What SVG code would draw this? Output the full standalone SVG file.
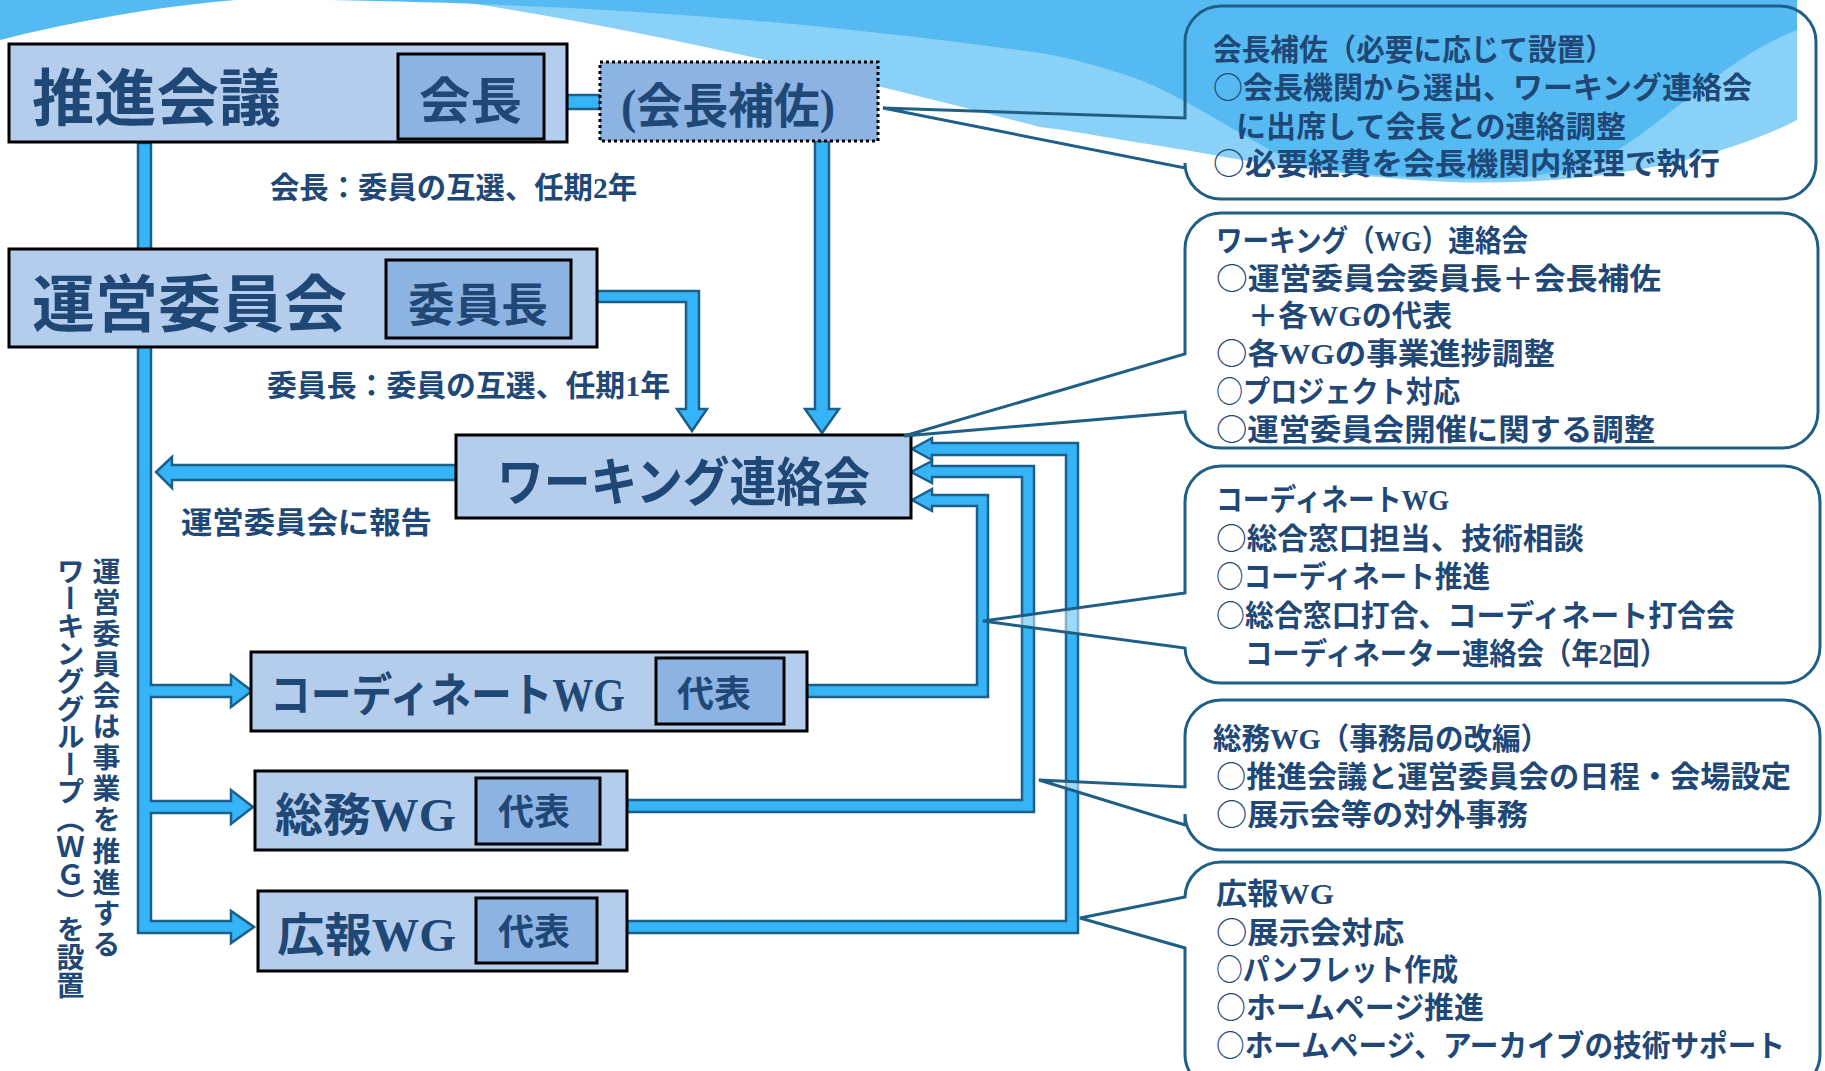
<svg xmlns="http://www.w3.org/2000/svg" width="1825" height="1071" viewBox="0 0 1825 1071">
<style>
.t{font-family:'Liberation Serif','Noto Sans CJK JP',serif;font-weight:700;fill:#1f4877}
.o{font-family:'Noto Sans CJK JP',sans-serif;font-weight:400}
.box{fill:#b4cdec;stroke:#000;stroke-width:3}
.inner{fill:#8db3e2;stroke:#000;stroke-width:3}
.dot{fill:#8db3e2;stroke:#000;stroke-width:3;stroke-dasharray:3 3}
.conn{fill:#35b5f7;stroke:#1b5f8a;stroke-width:2.5;stroke-linejoin:miter}
.call{fill:#fff;fill-opacity:0.5;stroke:#1f5f86;stroke-width:3}
.c1{fill:none;stroke:#1f5f86;stroke-width:3}
.ct{font-size:30px}
</style>
<rect width="1825" height="1071" fill="#fff"/>
<g id="background">
<path d="M0,0 L236,0 C160,6 70,22 0,40 Z" fill="#56baf2"/>
<path d="M450,0 L1797,0 L1797,120 C1700,170 1560,186 1450,182 C1330,176 1240,160 1185,150 C1120,140 1080,132 1040,127 C860,80 650,30 450,0 Z" fill="#8ad1f7"/>
<path d="M330,0 L1797,0 L1797,30 C1720,60 1660,130 1600,160 C1540,182 1480,180 1440,178 C1360,176 1320,170 1290,160 C1230,130 1190,100 1140,80 C1100,66 1070,58 1040,53 C800,20 600,5 330,0 Z" fill="#56baf2"/>
</g>
<g id="connectors">
<rect class="conn" x="567" y="95" width="33" height="14"/>
<polygon class="conn" points="138,143 151,143 151,685 231,685 231,675 252,691 231,707 231,697 151,697 151,801 231,801 231,790 253,807 231,824 231,813 151,813 151,921 231,921 231,911 254,927 231,943 231,933 138,933"/>
<polygon class="conn" points="815,141 829,141 829,409 839,409 822,433 805,409 815,409"/>
<polygon class="conn" points="597,291 699,291 699,409 707,409 692,431 677,409 686,409 686,302 597,302"/>
<polygon class="conn" points="456,465 172,465 172,457 156,472 172,488 172,480 456,480"/>
<polygon class="conn" points="807,685 977,685 977,506 932,506 932,511 912,500 932,489 932,495 988,495 988,697 807,697"/>
<polygon class="conn" points="627,800 1022,800 1022,477 932,477 932,483 911,472 932,461 932,466 1034,466 1034,812 627,812"/>
<polygon class="conn" points="627,921 1066,921 1066,455 932,455 932,460 912,449 932,438 932,443 1078,443 1078,933 627,933"/>
</g>
<g id="suishin">
<rect class="box" x="9" y="44" width="558" height="98"/>
<text class="t" x="32" y="121" font-size="62" textLength="249" lengthAdjust="spacingAndGlyphs">推進会議</text>
<rect class="inner" x="398" y="54" width="146" height="85"/>
<text class="t" x="419" y="119" font-size="50" textLength="103" lengthAdjust="spacingAndGlyphs">会長</text>
</g>
<g id="hosa">
<rect class="dot" x="600" y="62" width="278" height="79"/>
<text class="t" x="621" y="123" font-size="48" textLength="214" lengthAdjust="spacingAndGlyphs">(会長補佐)</text>
</g>
<g id="unei">
<rect class="box" x="9" y="249" width="588" height="98"/>
<text class="t" x="32" y="327" font-size="62" textLength="315" lengthAdjust="spacingAndGlyphs">運営委員会</text>
<rect class="inner" x="386" y="260" width="185" height="78"/>
<text class="t" x="408" y="321" font-size="46" textLength="140" lengthAdjust="spacingAndGlyphs">委員長</text>
</g>
<g id="working">
<rect class="box" x="456" y="435" width="455" height="83"/>
<text class="t" x="497" y="501" font-size="52" textLength="373" lengthAdjust="spacingAndGlyphs">ワーキング連絡会</text>
</g>
<g id="coordinate">
<rect class="box" x="251" y="652" width="556" height="79"/>
<text class="t" x="270" y="711" font-size="46" textLength="355" lengthAdjust="spacingAndGlyphs">コーディネートWG</text>
<rect class="inner" x="656" y="658" width="128" height="66"/>
<text class="t" x="677" y="707" font-size="36" textLength="74" lengthAdjust="spacingAndGlyphs">代表</text>
</g>
<g id="soumu">
<rect class="box" x="255" y="771" width="372" height="79"/>
<text class="t" x="275" y="831" font-size="46" textLength="181" lengthAdjust="spacingAndGlyphs">総務WG</text>
<rect class="inner" x="476" y="778" width="124" height="66"/>
<text class="t" x="498" y="825" font-size="36" textLength="72" lengthAdjust="spacingAndGlyphs">代表</text>
</g>
<g id="kouhou">
<rect class="box" x="258" y="891" width="369" height="80"/>
<text class="t" x="277" y="951" font-size="46" textLength="179" lengthAdjust="spacingAndGlyphs">広報WG</text>
<rect class="inner" x="476" y="898" width="121" height="65"/>
<text class="t" x="498" y="945" font-size="36" textLength="72" lengthAdjust="spacingAndGlyphs">代表</text>
</g>
<g id="labels">
<text class="t ct" x="270" y="198" textLength="367" lengthAdjust="spacingAndGlyphs">会長：委員の互選、任期2年</text>
<text class="t ct" x="267" y="396" textLength="403" lengthAdjust="spacingAndGlyphs">委員長：委員の互選、任期1年</text>
<text class="t ct" x="181" y="533" textLength="251" lengthAdjust="spacingAndGlyphs">運営委員会に報告</text>
<text class="t" x="104" y="557" font-size="28" style="writing-mode:vertical-rl;letter-spacing:3.1px">運営委員会は事業を推進する</text>
<text class="t" x="68" y="557" font-size="28" style="writing-mode:vertical-rl;letter-spacing:-0.4px">ワーキンググループ（ＷＧ）を設置</text>
</g>
<g id="callout1">
<path class="c1" d="M1221,6 H1780 A36,36 0 0 1 1816,42 V163 A36,36 0 0 1 1780,199 H1221 A36,36 0 0 1 1185,163 V168 L883,108 L1185,118 V42 A36,36 0 0 1 1221,6 Z"/>
<text class="t ct" x="1213" y="60" textLength="401" lengthAdjust="spacingAndGlyphs">会長補佐（必要に応じて設置）</text>
<text class="t ct" x="1213" y="98" textLength="539" lengthAdjust="spacingAndGlyphs"><tspan class="o">○</tspan>会長機関から選出、ワーキング連絡会</text>
<text class="t ct" x="1236" y="137" textLength="390" lengthAdjust="spacingAndGlyphs">に出席して会長との連絡調整</text>
<text class="t ct" x="1213" y="174" textLength="507" lengthAdjust="spacingAndGlyphs"><tspan class="o">○</tspan>必要経費を会長機関内経理で執行</text>
</g>
<g id="callout2">
<path class="call" d="M1221,213 H1782 A36,36 0 0 1 1818,249 V412 A36,36 0 0 1 1782,448 H1221 A36,36 0 0 1 1185,412 L904,436 L1185,354 V249 A36,36 0 0 1 1221,213 Z"/>
<text class="t ct" x="1216" y="251" textLength="312" lengthAdjust="spacingAndGlyphs">ワーキング（WG）連絡会</text>
<text class="t ct" x="1216" y="289" textLength="445" lengthAdjust="spacingAndGlyphs"><tspan class="o">○</tspan>運営委員会委員長＋会長補佐</text>
<text class="t ct" x="1248" y="326" textLength="204" lengthAdjust="spacingAndGlyphs">＋各WGの代表</text>
<text class="t ct" x="1216" y="364" textLength="339" lengthAdjust="spacingAndGlyphs"><tspan class="o">○</tspan>各WGの事業進捗調整</text>
<text class="t ct" x="1216" y="402" textLength="244" lengthAdjust="spacingAndGlyphs"><tspan class="o">○</tspan>プロジェクト対応</text>
<text class="t ct" x="1216" y="440" textLength="439" lengthAdjust="spacingAndGlyphs"><tspan class="o">○</tspan>運営委員会開催に関する調整</text>
</g>
<g id="callout3">
<path class="call" d="M1221,466 H1784 A36,36 0 0 1 1820,502 V647 A36,36 0 0 1 1784,683 H1221 A36,36 0 0 1 1185,648 L983,621 L1185,593 V502 A36,36 0 0 1 1221,466 Z"/>
<text class="t ct" x="1216" y="510" textLength="233" lengthAdjust="spacingAndGlyphs">コーディネートWG</text>
<text class="t ct" x="1216" y="549" textLength="368" lengthAdjust="spacingAndGlyphs"><tspan class="o">○</tspan>総合窓口担当、技術相談</text>
<text class="t ct" x="1216" y="587" textLength="274" lengthAdjust="spacingAndGlyphs"><tspan class="o">○</tspan>コーディネート推進</text>
<text class="t ct" x="1216" y="626" textLength="519" lengthAdjust="spacingAndGlyphs"><tspan class="o">○</tspan>総合窓口打合、コーディネート打合会</text>
<text class="t ct" x="1245" y="664" textLength="422" lengthAdjust="spacingAndGlyphs">コーディネーター連絡会（年2回）</text>
</g>
<g id="callout4">
<path class="call" d="M1221,700 H1784 A36,36 0 0 1 1820,736 V814 A36,36 0 0 1 1784,850 H1221 A36,36 0 0 1 1185,814 V825 L1039,780 L1185,787 V736 A36,36 0 0 1 1221,700 Z"/>
<text class="t ct" x="1213" y="749" textLength="336" lengthAdjust="spacingAndGlyphs">総務WG（事務局の改編）</text>
<text class="t ct" x="1216" y="787" textLength="575" lengthAdjust="spacingAndGlyphs"><tspan class="o">○</tspan>推進会議と運営委員会の日程・会場設定</text>
<text class="t ct" x="1216" y="825" textLength="312" lengthAdjust="spacingAndGlyphs"><tspan class="o">○</tspan>展示会等の対外事務</text>
</g>
<g id="callout5">
<path class="call" d="M1221,862 H1784 A36,36 0 0 1 1820,898 V1054 A36,36 0 0 1 1784,1090 H1221 A36,36 0 0 1 1185,1054 V948 L1080,918 L1185,897 A36,36 0 0 1 1221,862 Z"/>
<text class="t ct" x="1216" y="904" textLength="118" lengthAdjust="spacingAndGlyphs">広報WG</text>
<text class="t ct" x="1216" y="943" textLength="188" lengthAdjust="spacingAndGlyphs"><tspan class="o">○</tspan>展示会対応</text>
<text class="t ct" x="1216" y="980" textLength="242" lengthAdjust="spacingAndGlyphs"><tspan class="o">○</tspan>パンフレット作成</text>
<text class="t ct" x="1216" y="1018" textLength="268" lengthAdjust="spacingAndGlyphs"><tspan class="o">○</tspan>ホームページ推進</text>
<text class="t ct" x="1216" y="1056" textLength="569" lengthAdjust="spacingAndGlyphs"><tspan class="o">○</tspan>ホームページ、アーカイブの技術サポート</text>
</g>
</svg>
